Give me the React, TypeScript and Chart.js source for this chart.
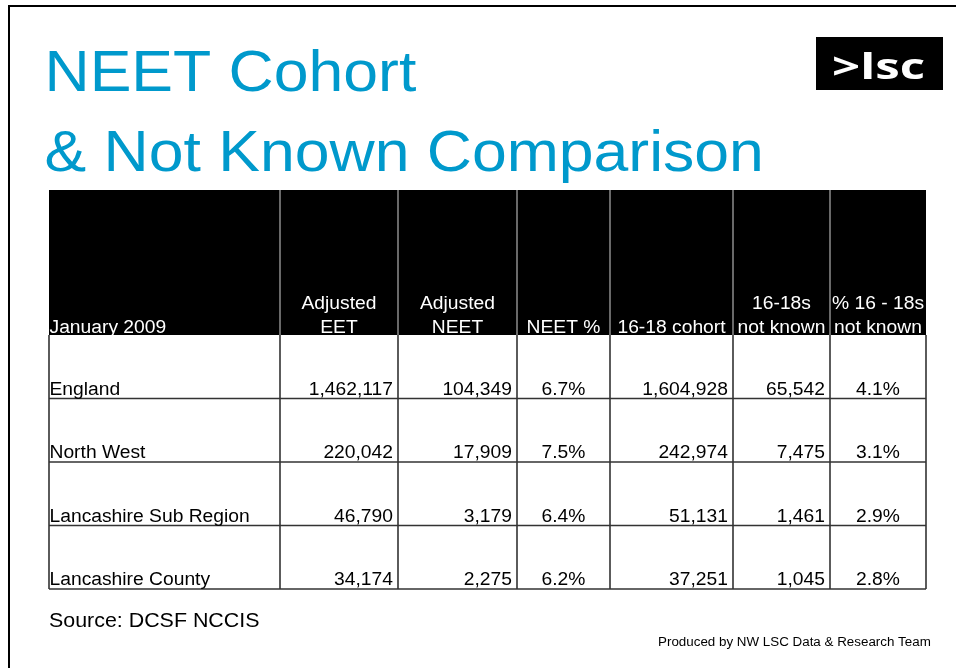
import { useEffect, useRef } from "react";
import { Chart, registerables } from "chart.js";

Chart.register(...registerables);

// ---------- data ----------
const TITLE_LINES = ["NEET Cohort", "& Not Known Comparison"];
const HEADER_LINES = [
  ["January 2009"],
  ["Adjusted", "EET"],
  ["Adjusted", "NEET"],
  ["NEET %"],
  ["16-18 cohort"],
  ["16-18s", "not known"],
  ["% 16 - 18s", "not known"],
];
const REGIONS = ["England", "North West", "Lancashire Sub Region", "Lancashire County"];
const ADJ_EET = [1462117, 220042, 46790, 34174];
const ADJ_NEET = [104349, 17909, 3179, 2275];
const NEET_PCT = [6.7, 7.5, 6.4, 6.2];
const COHORT_16_18 = [1604928, 242974, 51131, 37251];
const NOT_KNOWN = [65542, 7475, 1461, 1045];
const PCT_NOT_KNOWN = [4.1, 3.1, 2.9, 2.8];
const SOURCE_TEXT = "Source: DCSF NCCIS";
const CREDIT_TEXT = "Produced by NW LSC Data & Research Team";
const LOGO_TEXT = ">lsc";

// ---------- layout / style constants ----------
const W = 956;
const H = 668;
const COL_WIDTHS = [231, 118, 119, 93, 123, 97, 96];
const COL_ALIGN: CanvasTextAlign[] = ["left", "right", "right", "center", "right", "right", "center"];
const TOTAL = COL_WIDTHS.reduce((a, b) => a + b, 0);
const COL_EDGES = COL_WIDTHS.reduce((acc: number[], w) => [...acc, acc[acc.length - 1] + w], [0]);
const FONT = "'Liberation Sans', Arial, sans-serif";
const SX = 1.07; // horizontal stretch of the original slide
const TITLE_COLOR = "#0099cc";
const HEADER_TOP = 190;

const fmtInt = (n: number) => String(n).replace(/\B(?=(\d{3})+(?!\d))/g, ",");
const fmtPct = (n: number) => n.toFixed(1) + "%";

function drawText(
  ctx: CanvasRenderingContext2D,
  text: string,
  x: number,
  y: number,
  font: string,
  color: string,
  align: CanvasTextAlign = "left",
  sx = SX
) {
  ctx.save();
  ctx.translate(x, y);
  ctx.scale(sx, 1);
  ctx.font = font;
  ctx.fillStyle = color;
  ctx.textAlign = align;
  ctx.textBaseline = "alphabetic";
  ctx.fillText(text, 0, 0);
  ctx.restore();
}

const tablePlugin = {
  id: "slideTable",
  beforeDraw(chart: any) {
    const ctx: CanvasRenderingContext2D = chart.ctx;
    const xs = chart.scales.x;
    const area = chart.chartArea;
    ctx.save();
    ctx.fillStyle = "#ffffff";
    ctx.fillRect(0, 0, W, H);
    // slide frame (top + left)
    ctx.fillStyle = "#000000";
    ctx.fillRect(8, 5, W - 8, 2);
    ctx.fillRect(8, 5, 2, H - 5);

    // title
    drawText(ctx, TITLE_LINES[0], 44.5, 91, `58px ${FONT}`, TITLE_COLOR, "left", 1.078);
    drawText(ctx, TITLE_LINES[1], 44.5, 171, `58px ${FONT}`, TITLE_COLOR, "left", 1.078);

    // logo
    ctx.fillStyle = "#000000";
    ctx.fillRect(816, 37, 127, 53);
    ctx.font = `bold 36px 'Open Sans', sans-serif`;
    const mw = ctx.measureText(LOGO_TEXT).width;
    drawText(ctx, LOGO_TEXT, 832, 79, `bold 36px 'Open Sans', sans-serif`, "#ffffff", "left", 93 / mw);

    // header band
    const left = xs.getPixelForValue(0);
    const right = xs.getPixelForValue(TOTAL);
    const hb = area.top;
    ctx.fillStyle = "#000000";
    ctx.fillRect(left, HEADER_TOP, right - left, hb - HEADER_TOP);
    ctx.strokeStyle = "#8c8c8c";
    ctx.lineWidth = 1.5;
    for (let c = 1; c < COL_EDGES.length - 1; c++) {
      const px = xs.getPixelForValue(COL_EDGES[c]);
      ctx.beginPath();
      ctx.moveTo(px, HEADER_TOP);
      ctx.lineTo(px, hb);
      ctx.stroke();
    }
    HEADER_LINES.forEach((lines, c) => {
      const x0 = xs.getPixelForValue(COL_EDGES[c]);
      const x1 = xs.getPixelForValue(COL_EDGES[c + 1]);
      const x = c === 0 ? x0 + 0.5 : (x0 + x1) / 2;
      lines.forEach((t, k) => {
        const y = hb - 2 - (lines.length - 1 - k) * 24;
        drawText(ctx, t, x, y, `18px ${FONT}`, "#ffffff", c === 0 ? "left" : "center");
      });
    });
    ctx.restore();
  },
  afterDatasetsDraw(chart: any) {
    const ctx: CanvasRenderingContext2D = chart.ctx;
    const xs = chart.scales.x;
    const ys = chart.scales.y;
    const area = chart.chartArea;
    const step = REGIONS.length > 1 ? ys.getPixelForValue(1) - ys.getPixelForValue(0) : area.height;
    ctx.save();
    ctx.strokeStyle = "#333333";
    ctx.lineWidth = 1.6;
    // vertical lines
    COL_EDGES.forEach((e) => {
      const px = xs.getPixelForValue(e);
      ctx.beginPath();
      ctx.moveTo(px, area.top);
      ctx.lineTo(px, area.bottom);
      ctx.stroke();
    });
    // rows
    REGIONS.forEach((region, i) => {
      const bottom = ys.getPixelForValue(i) + step / 2;
      ctx.beginPath();
      ctx.moveTo(xs.getPixelForValue(0), bottom);
      ctx.lineTo(xs.getPixelForValue(TOTAL), bottom);
      ctx.stroke();
      const cells = [
        region,
        fmtInt(ADJ_EET[i]),
        fmtInt(ADJ_NEET[i]),
        fmtPct(NEET_PCT[i]),
        fmtInt(COHORT_16_18[i]),
        fmtInt(NOT_KNOWN[i]),
        fmtPct(PCT_NOT_KNOWN[i]),
      ];
      cells.forEach((t, c) => {
        const x0 = xs.getPixelForValue(COL_EDGES[c]);
        const x1 = xs.getPixelForValue(COL_EDGES[c + 1]);
        const align = COL_ALIGN[c];
        const x = align === "left" ? x0 + 0.5 : align === "right" ? x1 - 5 : (x0 + x1) / 2;
        drawText(ctx, t, x, bottom - 4, `18px ${FONT}`, "#000000", align);
      });
    });
    // footer texts
    drawText(ctx, SOURCE_TEXT, 49, 627, `20px ${FONT}`, "#000000");
    drawText(ctx, CREDIT_TEXT, 658, 646, `12.5px ${FONT}`, "#000000");
    ctx.restore();
  },
};

export default function App() {
  const ref = useRef<HTMLCanvasElement | null>(null);
  useEffect(() => {
    if (!ref.current) return;
    const chart = new Chart(ref.current, {
      type: "bar",
      data: {
        labels: REGIONS,
        datasets: [
          {
            label: "rows",
            data: REGIONS.map(() => [0, TOTAL]) as any,
            backgroundColor: "#ffffff",
            borderWidth: 0,
            barPercentage: 1,
            categoryPercentage: 1,
          },
        ],
      },
      options: {
        indexAxis: "y",
        animation: false,
        responsive: false,
        events: [],
        layout: { padding: { left: 49, right: W - 926, top: 335, bottom: H - 589 } },
        scales: {
          x: { type: "linear", min: 0, max: TOTAL, display: false },
          y: { type: "category", display: false, offset: true },
        },
        plugins: {
          legend: { display: false },
          tooltip: { enabled: false },
          title: { display: false },
        },
      },
      plugins: [tablePlugin],
    });
    return () => chart.destroy();
  }, []);
  return (
    <div style={{ position: "absolute", left: 0, top: 0, width: W, height: H }}>
      <canvas ref={ref} width={W} height={H} style={{ display: "block", width: W, height: H }} />
    </div>
  );
}
